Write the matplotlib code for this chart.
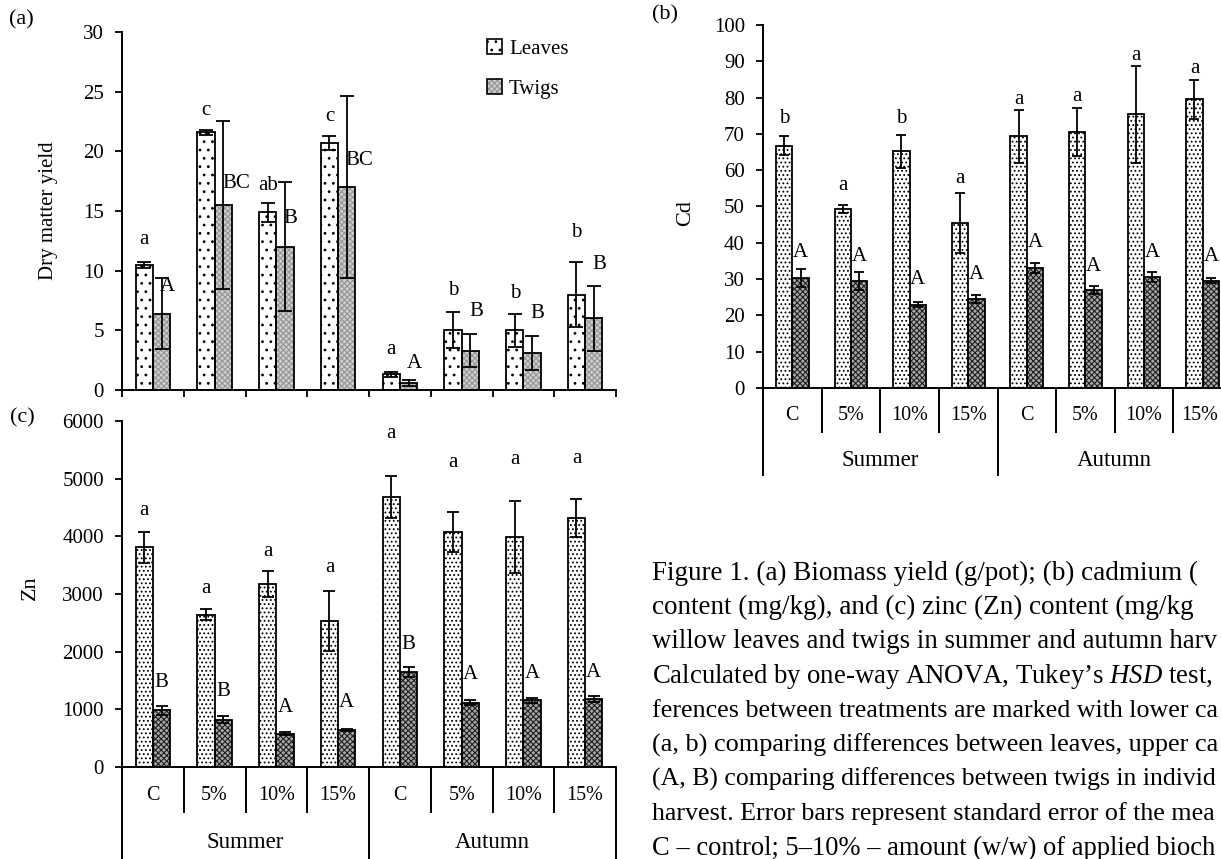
import matplotlib.pyplot as plt
import matplotlib.transforms as mtransforms
from matplotlib.patches import Patch
import numpy as np

plt.rcParams['font.family'] = 'Liberation Serif'
plt.rcParams['mathtext.fontset'] = 'custom'
plt.rcParams['mathtext.rm'] = 'Liberation Serif'
plt.rcParams['mathtext.it'] = 'Liberation Serif:italic'
plt.rcParams['hatch.linewidth'] = 0.8

treatments = ['C', '5%', '10%', '15%', 'C', '5%', '10%', '15%']
seasons = ['Summer', 'Autumn']

# (a) dry matter yield (g/pot)
dm_leaves = [10.5, 21.6, 14.9, 20.7, 1.3, 5.0, 5.0, 8.0]
dm_leaves_se = [0.25, 0.2, 0.8, 0.6, 0.25, 1.5, 1.4, 2.7]
dm_twigs = [6.4, 15.5, 12.0, 17.0, 0.6, 3.3, 3.1, 6.0]
dm_twigs_se = [3.0, 7.0, 5.4, 7.6, 0.25, 1.4, 1.4, 2.7]
dm_leaves_tag = ['a', 'c', 'ab', 'c', 'a', 'b', 'b', 'b']
dm_twigs_tag = ['A', 'BC', 'B', 'BC', 'A', 'B', 'B', 'B']

# (b) cadmium (mg/kg)
cd_leaves = [66.8, 49.3, 65.2, 45.4, 69.3, 70.4, 75.4, 79.5]
cd_leaves_se = [2.7, 1.2, 4.6, 8.3, 7.2, 6.6, 13.3, 5.4]
cd_twigs = [30.3, 29.5, 23.0, 24.5, 33.1, 27.1, 30.5, 29.5]
cd_twigs_se = [2.5, 2.4, 0.7, 1.1, 1.4, 1.1, 1.4, 0.7]
cd_leaves_tag = ['b', 'a', 'b', 'a', 'a', 'a', 'a', 'a']
cd_twigs_tag = ['A', 'A', 'A', 'A', 'A', 'A', 'A', 'A']

# (c) zinc (mg/kg)
zn_leaves = [3810, 2640, 3170, 2530, 4680, 4070, 3990, 4310]
zn_leaves_se = [270, 95, 225, 520, 365, 345, 630, 330]
zn_twigs = [980, 820, 580, 645, 1650, 1115, 1155, 1175]
zn_twigs_se = [70, 58, 25, 15, 87, 40, 46, 52]
zn_leaves_tag = ['a', 'a', 'a', 'a', 'a', 'a', 'a', 'a']
zn_twigs_tag = ['B', 'B', 'A', 'A', 'B', 'A', 'A', 'A']

# heights where the letter tags sit
tag_y_a = ([12.65, 23.4, 17.1, 22.9, 3.4, 8.3, 8.1, 13.2],
           [8.7, 17.3, 14.4, 19.2, 2.25, 6.6, 6.45, 10.5])
tag_y_b = ([74.3, 55.9, 74.3, 57.6, 79.5, 80.3, 91.7, 88.1],
           [37.2, 36.2, 30.0, 31.2, 40.2, 33.5, 37.2, 36.2])
tag_y_c = ([4451, 3104, 3740, 3451, 5780, 5272, 5335, 5358],
           [1462, 1312, 1040, 1116, 2121, 1601, 1618, 1647])

# caption, as far as it runs before the page edge
caption = [
    "Figure 1. (a) Biomass yield (g/pot); (b) cadmium (",
    "content (mg/kg), and (c) zinc (Zn) content (mg/kg",
    "willow leaves and twigs in summer and autumn harv",
    "Calculated by one-way ANOVA, Tukey\u2019s $HSD$ test,",
    "ferences between treatments are marked with lower ca",
    "(a, b) comparing differences between leaves, upper ca",
    "(A, B) comparing differences between twigs in individ",
    "harvest. Error bars represent standard error of the mea",
    "C \u2013 control; 5\u201310% \u2013 amount (w/w) of applied bioch",
]

W, H = 1221, 859
fig = plt.figure(figsize=(W / 100, H / 100), dpi=100)
fs = 15
bw = 0.28
x = np.arange(len(treatments))


def box(left, top, right, bottom):
    return [left / W, 1 - bottom / H, (right - left) / W, (bottom - top) / H]


def fy(py):
    return 1 - py / H


def draw_bars(ax, pos, vals, face, hatch, hatch_col):
    ax.bar(pos, vals, width=bw, color=face, hatch=hatch, edgecolor=hatch_col,
           linewidth=0, zorder=2)
    ax.bar(pos, vals, width=bw, fill=False, edgecolor='black', linewidth=1.3,
           zorder=2.5)


def panel(ax, leaves, leaves_se, twigs, twigs_se, ymax, step,
          leaf_hatch, twig_face, twig_hatch, twig_hatch_col,
          tags_low, tags_up, tag_y, cap, up_ha='center'):
    xl = x - bw / 2
    xt = x + bw / 2
    draw_bars(ax, xl, leaves, 'white', leaf_hatch, 'black')
    draw_bars(ax, xt, twigs, twig_face, twig_hatch, twig_hatch_col)
    for xx, vv, ee in [(xl, leaves, leaves_se), (xt, twigs, twigs_se)]:
        ax.errorbar(xx, vv, yerr=ee, fmt='none', ecolor='black', elinewidth=1.3,
                    capsize=cap, capthick=1.3, zorder=3)
    for i in range(len(x)):
        ax.text(xl[i], tag_y[0][i], tags_low[i], ha='center', va='center', fontsize=fs)
        xu = xt[i] if up_ha == 'center' else xt[i] - 0.02
        ax.text(xu, tag_y[1][i], tags_up[i], ha=up_ha, va='center', fontsize=fs)
    ax.set_xlim(-0.5, len(x) - 0.5)
    ax.set_ylim(0, ymax)
    ax.set_yticks(np.arange(0, ymax + step / 2, step))
    for s in ['top', 'right']:
        ax.spines[s].set_visible(False)
    for s in ['left', 'bottom']:
        ax.spines[s].set_linewidth(1.4)
    ax.tick_params(axis='y', direction='out', length=5, width=1.3, labelsize=fs, pad=8)
    ax.set_facecolor('none')


def category_axis(ax, y0, y_short, y_lab, y_long, y_season):
    tr = mtransforms.blended_transform_factory(ax.transData, fig.transFigure)
    for k in range(len(x) + 1):
        xb = k - 0.5
        y_end = y_long if k % 4 == 0 else y_short
        ax.plot([xb, xb], [fy(y0), fy(y_end)], transform=tr, color='black',
                lw=1.4, clip_on=False, solid_capstyle='butt')
    labels = []
    for i, t in enumerate(treatments):
        labels.append(ax.text(i, fy(y_lab), t, transform=tr, ha='center',
                              va='center', fontsize=14.5))
    for s, xs in zip(seasons, [1.5, 5.5]):
        ax.text(xs, fy(y_season), s, transform=tr, ha='center', va='center', fontsize=16.5)
    ax.set_xticks([])
    return labels


# (a) biomass
ax_a = fig.add_axes(box(122, 32, 616, 390))
panel(ax_a, dm_leaves, dm_leaves_se, dm_twigs, dm_twigs_se, 30, 5,
      '..', '#cfcfcf', 'xxxxxx', '#959595',
      dm_leaves_tag, dm_twigs_tag, tag_y_a, 5.0, up_ha='left')
ax_a.set_xticks(np.arange(len(x) + 1) - 0.5)
ax_a.tick_params(axis='x', direction='out', length=5, width=1.3, labelbottom=False)

leaf_h = Patch(facecolor='white', edgecolor='black', hatch='..', linewidth=1.2)
twig_h = (Patch(facecolor='#cfcfcf', edgecolor='#959595', hatch='xxxxxx', linewidth=0),
          Patch(fill=False, edgecolor='black', linewidth=1.2))
ax_a.legend([leaf_h, twig_h], ['Leaves', 'Twigs'], loc='upper left',
            bbox_to_anchor=((487 - 122) / 494, (390 - 39) / 358),
            frameon=False, fontsize=fs, handlelength=0.7, handleheight=0.7,
            handletextpad=0.35, labelspacing=1.0, borderpad=0, borderaxespad=0)

# (b) cadmium
ax_b = fig.add_axes(box(763, 25, 1232, 388))
panel(ax_b, cd_leaves, cd_leaves_se, cd_twigs, cd_twigs_se, 100, 10,
      '....', '#a8a8a8', 'xxxxxx', '#202020',
      cd_leaves_tag, cd_twigs_tag, tag_y_b, 3.3)
edge_labels = category_axis(ax_b, 388, 433, 415, 476, 460)

# (c) zinc
ax_c = fig.add_axes(box(122, 421, 616, 767))
panel(ax_c, zn_leaves, zn_leaves_se, zn_twigs, zn_twigs_se, 6000, 1000,
      '....', '#a8a8a8', 'xxxxxx', '#202020',
      zn_leaves_tag, zn_twigs_tag, tag_y_c, 4.3)
category_axis(ax_c, 767, 813, 795, 870, 843)

# axis titles and panel letters
fig.text(49 / W, fy(211), 'Dry matter yield', rotation=90, ha='center', va='center', fontsize=15)
fig.text(686 / W, fy(213), 'Cd', rotation=90, ha='center', va='center', fontsize=16)
fig.text(30 / W, fy(588), 'Zn', rotation=90, ha='center', va='center', fontsize=16)
fig.text(9 / W, fy(20), '(a)', ha='left', va='center', fontsize=16)
fig.text(652 / W, fy(15), '(b)', ha='left', va='center', fontsize=16)
fig.text(10 / W, fy(418), '(c)', ha='left', va='center', fontsize=16)

# caption block
cap_texts = [fig.text(652 / W, fy(573 + 34.4 * k), line, ha='left', va='center',
                      fontsize=19.5)
             for k, line in enumerate(caption)]

# keep everything near the right edge inside the canvas
renderer = fig.canvas.get_renderer()
for t in cap_texts:
    while t.get_window_extent(renderer).x1 > W - 2:
        t.set_fontsize(t.get_fontsize() - 0.2)

last = edge_labels[-1]
over = last.get_window_extent(renderer).x1 - (W - 3)
if over > 0:
    px_per_cat = ax_b.transData.transform((1, 0))[0] - ax_b.transData.transform((0, 0))[0]
    xl0, yl0 = last.get_position()
    last.set_position((xl0 - over / px_per_cat, yl0))

fig.savefig('out.png', dpi=100)
